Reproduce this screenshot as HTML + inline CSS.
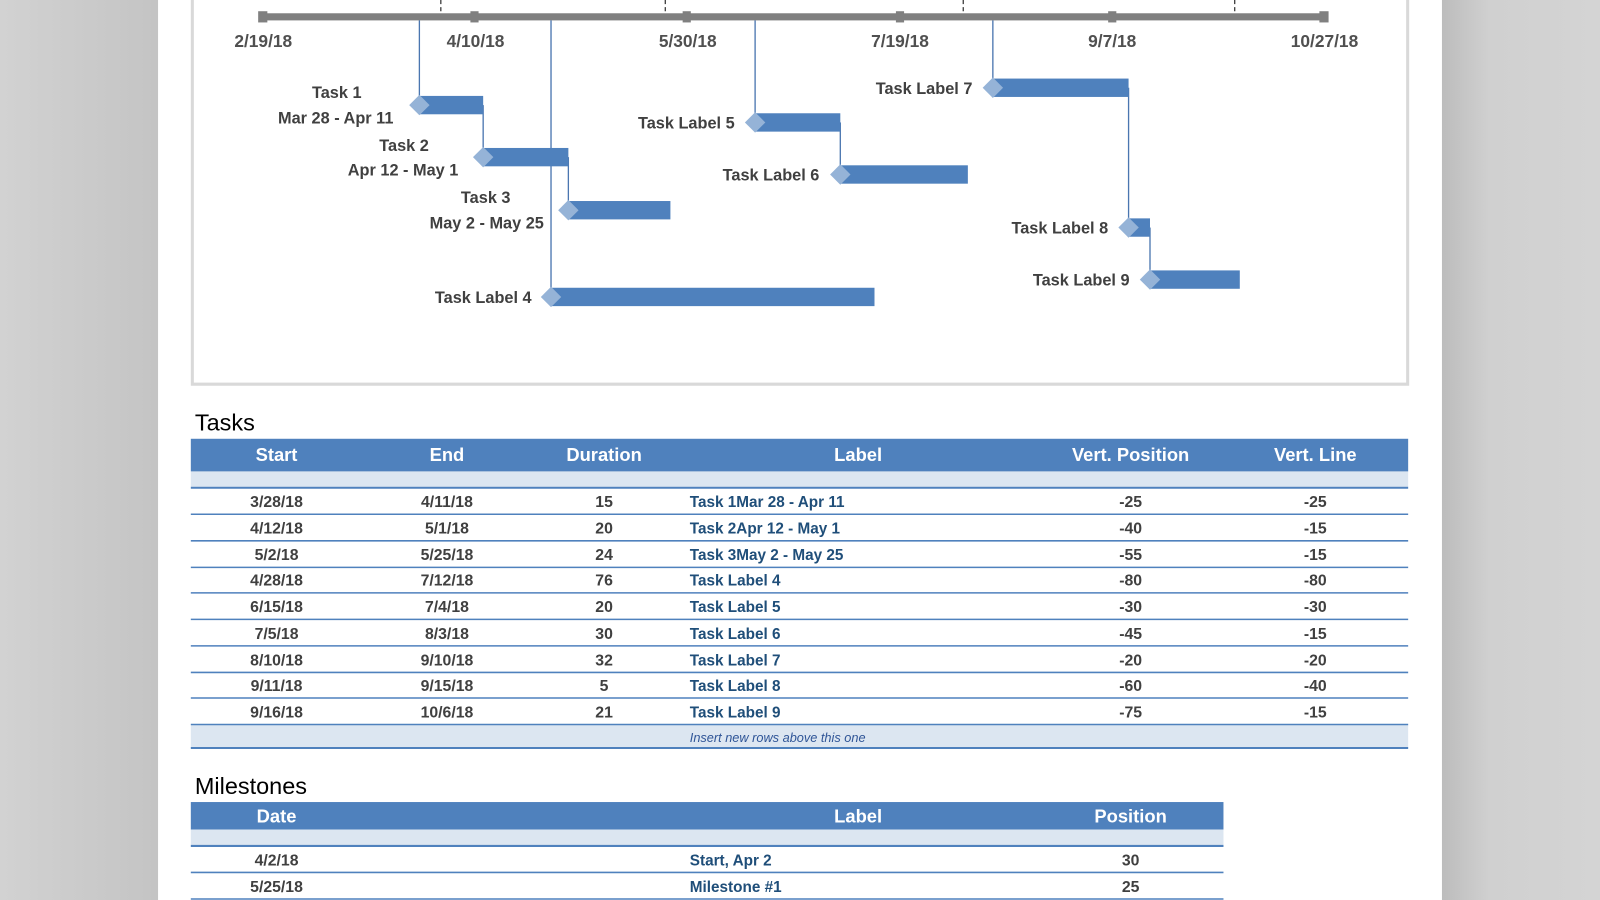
<!DOCTYPE html>
<html><head><meta charset="utf-8"><style>
html,body{margin:0;padding:0;width:1600px;height:900px;overflow:hidden;background:#fff}
svg{display:block}
text{font-family:"Liberation Sans",sans-serif}
</style></head><body>
<svg width="1600" height="900" viewBox="0 0 1568 882" xmlns="http://www.w3.org/2000/svg">
<defs>
<linearGradient id="gl" x1="0" x2="1"><stop offset="0" stop-color="#d2d2d2"/><stop offset="1" stop-color="#c4c4c4"/></linearGradient>
<linearGradient id="gr" x1="0" x2="1"><stop offset="0" stop-color="#bcbcbc"/><stop offset="0.3" stop-color="#d0d0d0"/><stop offset="1" stop-color="#d4d4d4"/></linearGradient>
</defs>
<rect x="0" y="0" width="155" height="882" fill="url(#gl)"/>
<rect x="1413" y="0" width="155" height="882" fill="url(#gr)"/>
<rect x="155" y="0" width="1258" height="882" fill="#fff"/>
<!-- chart box -->
<path d="M188.5 0 V376.5 H1379.5 V0" fill="none" stroke="#d9d9d9" stroke-width="3"/>
<!-- dashed ticks -->
<g stroke="#404040" stroke-width="1.3" stroke-dasharray="4,3">
<line x1="432" y1="0" x2="432" y2="14"/><line x1="652" y1="0" x2="652" y2="14"/><line x1="944" y1="0" x2="944" y2="14"/><line x1="1210" y1="0" x2="1210" y2="14"/>
</g>
<!-- axis -->
<rect x="257" y="13" width="1041" height="7" fill="#808080"/>
<g fill="#808080">
<rect x="253" y="11" width="9" height="11"/><rect x="461" y="11" width="8" height="11"/><rect x="669" y="11" width="8" height="11"/><rect x="878" y="11" width="8" height="11"/><rect x="1086" y="11" width="8" height="11"/><rect x="1293" y="11" width="9" height="11"/>
</g>
<g font-size="17" font-weight="bold" fill="#505050" text-anchor="middle">
<text x="258" y="46">2/19/18</text><text x="466" y="46">4/10/18</text><text x="674" y="46">5/30/18</text><text x="882" y="46">7/19/18</text><text x="1090" y="46">9/7/18</text><text x="1298" y="46">10/27/18</text>
</g>
<!-- vertical lines -->
<g stroke="#4a76b0" stroke-width="1.3">
<line x1="411" y1="20" x2="411" y2="103"/>
<line x1="473.5" y1="103" x2="473.5" y2="154"/>
<line x1="557" y1="154" x2="557" y2="206"/>
<line x1="540" y1="20" x2="540" y2="291"/>
<line x1="740" y1="20" x2="740" y2="120"/>
<line x1="823.5" y1="120" x2="823.5" y2="171"/>
<line x1="973" y1="20" x2="973" y2="86"/>
<line x1="1106" y1="86" x2="1106" y2="223"/>
<line x1="1127" y1="223" x2="1127" y2="274"/>
</g>
<!-- bars -->
<g fill="#4f81bd">
<rect x="411" y="94" width="62.5" height="18"/>
<rect x="473.5" y="145" width="83.5" height="18"/>
<rect x="557" y="197" width="100" height="18"/>
<rect x="540" y="282" width="317" height="18"/>
<rect x="740" y="111" width="83.5" height="18"/>
<rect x="823.5" y="162" width="125" height="18"/>
<rect x="973" y="77" width="133" height="18"/>
<rect x="1106" y="214" width="21" height="18"/>
<rect x="1127" y="265" width="88" height="18"/>
</g>
<g fill="#95b3d7">
<path d="M411 93 l10 10 l-10 10 l-10 -10z"/>
<path d="M473.5 144 l10 10 l-10 10 l-10 -10z"/>
<path d="M557 196 l10 10 l-10 10 l-10 -10z"/>
<path d="M540 281 l10 10 l-10 10 l-10 -10z"/>
<path d="M740 110 l10 10 l-10 10 l-10 -10z"/>
<path d="M823.5 161 l10 10 l-10 10 l-10 -10z"/>
<path d="M973 76 l10 10 l-10 10 l-10 -10z"/>
<path d="M1106 213 l10 10 l-10 10 l-10 -10z"/>
<path d="M1127 264 l10 10 l-10 10 l-10 -10z"/>
</g>
<g font-size="16" font-weight="bold" fill="#404040">
<g text-anchor="middle">
<text x="330" y="96">Task 1</text><text x="329" y="121">Mar 28 - Apr 11</text>
<text x="396" y="148">Task 2</text><text x="395" y="172">Apr 12 - May 1</text>
<text x="476" y="199">Task 3</text><text x="477" y="224">May 2 - May 25</text>
</g>
<g text-anchor="end">
<text x="521" y="297">Task Label 4</text>
<text x="720" y="126">Task Label 5</text>
<text x="803" y="177">Task Label 6</text>
<text x="953" y="92">Task Label 7</text>
<text x="1086" y="229">Task Label 8</text>
<text x="1107" y="280">Task Label 9</text>
</g>
</g>
<!-- Tasks table -->
<text x="191" y="422" font-size="23" fill="#000">Tasks</text>
<rect x="187" y="430" width="1193" height="32" fill="#4f81bd"/>
<rect x="187" y="462" width="1193" height="15" fill="#dce6f1"/>
<g font-size="18" font-weight="bold" fill="#fff" text-anchor="middle">
<text x="271" y="452">Start</text><text x="438" y="452">End</text><text x="592" y="452">Duration</text><text x="841" y="452">Label</text><text x="1108" y="452">Vert. Position</text><text x="1289" y="452">Vert. Line</text>
</g>
<rect x="187" y="710" width="1193" height="23" fill="#dce6f1"/>
<g stroke="#4f81bd" stroke-width="1.5">
<line x1="187" x2="1380" y1="478" y2="478" stroke-width="2"/>
<line x1="187" x2="1380" y1="504" y2="504"/><line x1="187" x2="1380" y1="530" y2="530"/><line x1="187" x2="1380" y1="556" y2="556"/><line x1="187" x2="1380" y1="581" y2="581"/><line x1="187" x2="1380" y1="607" y2="607"/><line x1="187" x2="1380" y1="633" y2="633"/><line x1="187" x2="1380" y1="659" y2="659"/><line x1="187" x2="1380" y1="684" y2="684"/><line x1="187" x2="1380" y1="710" y2="710"/><line x1="187" x2="1380" y1="733" y2="733" stroke-width="2"/>
</g>
<g font-size="15.5" font-weight="bold" fill="#404040" text-anchor="middle">
<text x="271" y="497">3/28/18</text><text x="438" y="497">4/11/18</text><text x="592" y="497">15</text><text x="1108" y="497">-25</text><text x="1289" y="497">-25</text>
<text x="271" y="523">4/12/18</text><text x="438" y="523">5/1/18</text><text x="592" y="523">20</text><text x="1108" y="523">-40</text><text x="1289" y="523">-15</text>
<text x="271" y="549">5/2/18</text><text x="438" y="549">5/25/18</text><text x="592" y="549">24</text><text x="1108" y="549">-55</text><text x="1289" y="549">-15</text>
<text x="271" y="574">4/28/18</text><text x="438" y="574">7/12/18</text><text x="592" y="574">76</text><text x="1108" y="574">-80</text><text x="1289" y="574">-80</text>
<text x="271" y="600">6/15/18</text><text x="438" y="600">7/4/18</text><text x="592" y="600">20</text><text x="1108" y="600">-30</text><text x="1289" y="600">-30</text>
<text x="271" y="626">7/5/18</text><text x="438" y="626">8/3/18</text><text x="592" y="626">30</text><text x="1108" y="626">-45</text><text x="1289" y="626">-15</text>
<text x="271" y="652">8/10/18</text><text x="438" y="652">9/10/18</text><text x="592" y="652">32</text><text x="1108" y="652">-20</text><text x="1289" y="652">-20</text>
<text x="271" y="677">9/11/18</text><text x="438" y="677">9/15/18</text><text x="592" y="677">5</text><text x="1108" y="677">-60</text><text x="1289" y="677">-40</text>
<text x="271" y="703">9/16/18</text><text x="438" y="703">10/6/18</text><text x="592" y="703">21</text><text x="1108" y="703">-75</text><text x="1289" y="703">-15</text>
</g>
<g font-size="15" font-weight="bold" fill="#1f4e79">
<text x="676" y="497">Task 1Mar 28 - Apr 11</text>
<text x="676" y="523">Task 2Apr 12 - May 1</text>
<text x="676" y="549">Task 3May 2 - May 25</text>
<text x="676" y="574">Task Label 4</text>
<text x="676" y="600">Task Label 5</text>
<text x="676" y="626">Task Label 6</text>
<text x="676" y="652">Task Label 7</text>
<text x="676" y="677">Task Label 8</text>
<text x="676" y="703">Task Label 9</text>
</g>
<text x="676" y="727" font-size="12.5" font-style="italic" fill="#2f5597">Insert new rows above this one</text>
<!-- Milestones -->
<text x="191" y="778" font-size="23" fill="#000">Milestones</text>
<rect x="187" y="786" width="1012" height="27" fill="#4f81bd"/>
<rect x="187" y="813" width="1012" height="15" fill="#dce6f1"/>
<g font-size="18" font-weight="bold" fill="#fff" text-anchor="middle">
<text x="271" y="806">Date</text><text x="841" y="806">Label</text><text x="1108" y="806">Position</text>
</g>
<g stroke="#4f81bd">
<line x1="187" x2="1199" y1="829" y2="829" stroke-width="2"/>
<line x1="187" x2="1199" y1="855" y2="855" stroke-width="1.5"/>
<line x1="187" x2="1199" y1="881" y2="881" stroke-width="1.5"/>
</g>
<g font-size="15.5" font-weight="bold" fill="#404040" text-anchor="middle">
<text x="271" y="848">4/2/18</text><text x="1108" y="848">30</text>
<text x="271" y="874">5/25/18</text><text x="1108" y="874">25</text>
</g>
<g font-size="15" font-weight="bold" fill="#1f4e79">
<text x="676" y="848">Start, Apr 2</text>
<text x="676" y="874">Milestone #1</text>
</g>
</svg>
</body></html>
